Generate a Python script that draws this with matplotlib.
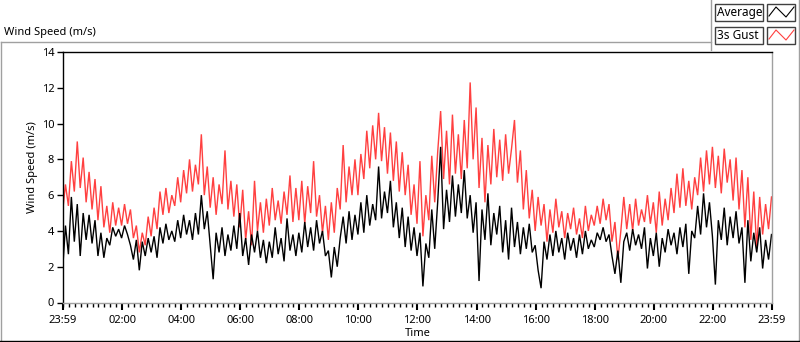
import numpy as np
import matplotlib
matplotlib.use("Agg")
import matplotlib.pyplot as plt
from matplotlib.lines import Line2D
from matplotlib.patches import Rectangle

plt.rcParams['font.family'] = ['Noto Sans', 'DejaVu Sans']

# ---- data, one value every 6 minutes from 23:59 ----
step_min = 6
gust = [
    5.0, 6.6, 5.4, 7.9, 6.2, 9.0, 6.4, 8.1, 5.6, 7.3,
    5.2, 6.9, 4.6, 6.5, 4.2, 5.4, 3.9, 5.6, 4.3, 5.3,
    4.3, 5.5, 4.4, 5.2, 3.6, 4.3, 2.8, 3.9, 3.2, 4.8,
    3.7, 5.3, 4.1, 6.2, 4.9, 6.4, 5.0, 6.0, 5.4, 7.0,
    5.6, 7.4, 6.1, 8.0, 6.2, 7.7, 6.6, 9.4, 6.0, 7.6,
    5.3, 7.0, 4.9, 6.6, 5.5, 8.5, 5.2, 6.8, 4.8, 6.6,
    4.2, 6.3, 3.5, 5.1, 3.2, 6.8, 4.0, 5.6, 3.9, 5.8,
    4.3, 6.4, 4.6, 5.7, 4.4, 6.2, 4.9, 7.1, 4.5, 6.4,
    4.6, 6.8, 4.4, 6.5, 5.0, 7.9, 4.8, 6.0, 3.9, 5.4,
    3.5, 5.6, 3.9, 6.4, 5.2, 8.8, 5.6, 7.6, 6.0, 8.0,
    6.0, 8.3, 6.9, 9.6, 7.5, 9.9, 8.0, 10.6, 7.9, 9.8,
    7.2, 9.5, 6.8, 9.0, 6.2, 8.4, 6.0, 7.7, 4.9, 6.6,
    4.4, 7.9, 3.7, 6.0, 4.6, 8.2, 5.6, 8.4, 10.7, 6.9,
    9.6, 6.6, 10.5, 7.2, 9.4, 6.9, 10.2, 7.5, 12.3, 8.0,
    10.9, 6.4, 9.2, 5.6, 8.8, 6.6, 9.7, 7.0, 9.1, 6.8,
    9.4, 7.2, 8.6, 10.2, 6.7, 8.5, 5.2, 7.4, 4.7, 6.3,
    4.0, 5.9, 4.3, 5.5, 3.4, 5.2, 3.9, 5.8, 4.2, 5.1,
    3.6, 5.0, 4.1, 5.3, 3.8, 4.7, 3.6, 5.4, 4.0, 4.9,
    4.3, 5.4, 4.4, 5.8, 4.6, 5.5, 3.4, 4.5, 2.4, 4.0,
    5.9, 4.1, 5.5, 4.0, 5.8, 4.3, 5.2, 4.5, 6.0, 4.4,
    5.6, 3.9, 6.2, 4.3, 5.8, 4.6, 6.4, 5.0, 7.2, 5.3,
    7.5, 5.4, 6.8, 5.2, 7.0, 6.0, 8.1, 6.2, 8.5, 6.6,
    8.7, 6.4, 8.2, 6.1, 8.6, 6.7, 8.0, 5.7, 8.1, 5.2,
    7.4, 4.2, 7.0, 3.5, 6.2, 3.0, 5.9, 3.8, 5.5, 4.1,
    5.9,
]
average = [
    1.7, 4.3, 2.7, 5.9, 3.4, 5.5, 2.6, 5.0, 3.5, 4.9,
    3.3, 4.6, 2.6, 3.9, 2.5, 3.6, 3.2, 4.2, 3.7, 4.1,
    3.6, 4.3, 3.8, 3.2, 2.4, 3.5, 1.8, 3.4, 2.6, 3.6,
    2.8, 3.7, 2.5, 4.2, 3.3, 4.4, 3.5, 4.0, 3.4, 4.6,
    3.6, 4.9, 3.8, 4.6, 3.5, 5.0, 3.8, 6.0, 4.1, 5.1,
    3.2, 1.3, 3.9, 2.8, 4.2, 2.6, 3.8, 2.9, 4.3, 3.0,
    5.0, 2.6, 3.6, 2.1, 3.8, 2.8, 4.0, 2.5, 3.5, 2.2,
    3.4, 2.5, 4.2, 2.7, 3.6, 2.3, 4.7, 2.9, 3.8, 2.6,
    3.9, 2.8, 4.5, 3.1, 4.2, 2.9, 4.6, 3.3, 4.0, 2.6,
    2.9, 1.4, 3.1, 2.0, 3.6, 4.8, 3.3, 5.1, 3.5, 4.9,
    3.8, 5.6, 3.9, 6.0, 4.3, 5.5, 4.6, 7.6, 4.7, 6.2,
    5.0, 6.8, 4.2, 5.6, 3.6, 5.3, 3.1, 4.8, 2.9, 4.2,
    2.6, 3.9, 0.9, 3.3, 2.5, 5.2, 3.0, 5.6, 8.7, 4.1,
    6.3, 4.5, 7.1, 4.8, 6.6, 5.0, 7.4, 4.7, 6.0, 3.9,
    5.6, 1.2, 5.2, 3.5, 6.1, 3.2, 5.0, 3.8, 5.4, 2.8,
    4.6, 2.4, 5.3, 3.1, 4.5, 2.7, 4.2, 3.0, 4.4, 2.8,
    3.2, 1.8, 0.8, 3.4, 2.4, 3.8, 2.6, 4.0, 2.8, 3.6,
    2.4, 3.9, 2.9, 3.6, 2.5, 3.8, 2.7, 4.0, 3.0, 3.5,
    3.1, 3.9, 3.5, 4.2, 3.4, 3.8, 2.6, 1.6, 2.9, 1.1,
    3.4, 3.9, 2.9, 4.1, 3.2, 3.8, 3.0, 4.2, 1.9, 3.6,
    2.6, 3.9, 2.0, 3.6, 2.8, 4.1, 3.2, 3.9, 2.7, 4.2,
    3.1, 4.4, 1.6, 4.0, 3.6, 5.4, 3.8, 6.1, 4.2, 5.6,
    3.7, 1.0, 4.6, 3.5, 5.3, 3.2, 4.8, 3.6, 5.1, 3.3,
    4.2, 1.1, 4.6, 2.3, 3.9, 2.8, 4.2, 1.9, 3.5, 2.4,
    3.8,
]
tick_labels = ["23:59", "02:00", "04:00", "06:00", "08:00", "10:00", "12:00",
               "14:00", "16:00", "18:00", "20:00", "22:00", "23:59"]
y_ticks = [0, 2, 4, 6, 8, 10, 12, 14]
series_names = ["Average", "3s Gust"]

# ---- figure ----
W, H = 800, 342
fig = plt.figure(figsize=(W / 100, H / 100), dpi=100)

def fx(x):
    return x / W

def fy(y):
    return 1 - y / H

GRAY = "#a0a0a0"
RED = "#ff4040"

# outer frame
fig.add_artist(Line2D([fx(0.5), fx(0.5)], [fy(42), fy(341)], color=GRAY, lw=1))
fig.add_artist(Line2D([fx(0.5), fx(711)], [fy(42), fy(42)], color=GRAY, lw=1))
fig.add_artist(Line2D([fx(711), fx(711)], [fy(0), fy(50)], color=GRAY, lw=1))
fig.add_artist(Line2D([fx(799), fx(799)], [fy(0), fy(342)], color=GRAY, lw=1))
fig.add_artist(Line2D([fx(0), fx(800)], [fy(341), fy(341)], color="black", lw=1))

fig.text(fx(4), fy(32), "Wind Speed (m/s)", fontsize=8, va="center", ha="left", color="black")

# plot area
ax = fig.add_axes([fx(62.5), fy(302.5), fx(771.5) - fx(62.5), fy(52) - fy(302.5)])
t = np.arange(len(gust)) * step_min
ax.plot(t, gust, color=RED, lw=1.0, solid_joinstyle="miter")
ax.plot(t, average, color="black", lw=1.0, solid_joinstyle="miter")

ax.set_xlim(0, 1440)
ax.set_ylim(0, 14)
ax.set_yticks(y_ticks)
ax.set_yticklabels([str(v) for v in y_ticks])
major_pos = [0] + [h * 60 + 1 for h in range(2, 23, 2)] + [1440]
ax.set_xticks(major_pos)
ax.set_xticklabels(tick_labels)
minor = [m for m in range(1, 1440, 12) if m not in major_pos]
ax.set_xticks(minor, minor=True)
ax.tick_params(axis="both", which="major", labelsize=8, length=4, width=1, pad=2, color="black")
ax.tick_params(axis="x", which="major", length=5, width=1.5, pad=4)
ax.tick_params(axis="x", which="minor", length=3, width=1, color="black")
ax.spines["top"].set_color("black")
ax.spines["left"].set_color("black")
ax.spines["bottom"].set_color(GRAY)
ax.spines["right"].set_color(GRAY)
for s in ax.spines.values():
    s.set_linewidth(1)

fig.text(fx(32), fy(167), "Wind Speed (m/s)", rotation=90, fontsize=8, va="center", ha="center")
fig.text(fx(418), fy(334), "Time", fontsize=8, va="center", ha="center")

# legend boxes
for i, (name, col) in enumerate(zip(series_names, ["black", RED])):
    y0 = 4 + i * 23
    fig.add_artist(Rectangle((fx(715), fy(y0 + 17)), fx(48), fy(0) - fy(17),
                             fill=False, edgecolor="#404040", lw=1))
    fig.text(fx(717), fy(y0 + 8.5), name, fontsize=8.5, va="center", ha="left")
    fig.add_artist(Rectangle((fx(767), fy(y0 + 17)), fx(28), fy(0) - fy(17),
                             fill=False, edgecolor="#404040", lw=1))
    fig.add_artist(Line2D([fx(769), fx(776), fx(786), fx(794)],
                          [fy(y0 + 12), fy(y0 + 3), fy(y0 + 13), fy(y0 + 3)],
                          color=col, lw=0.8))

fig.savefig("out.png", dpi=100)
